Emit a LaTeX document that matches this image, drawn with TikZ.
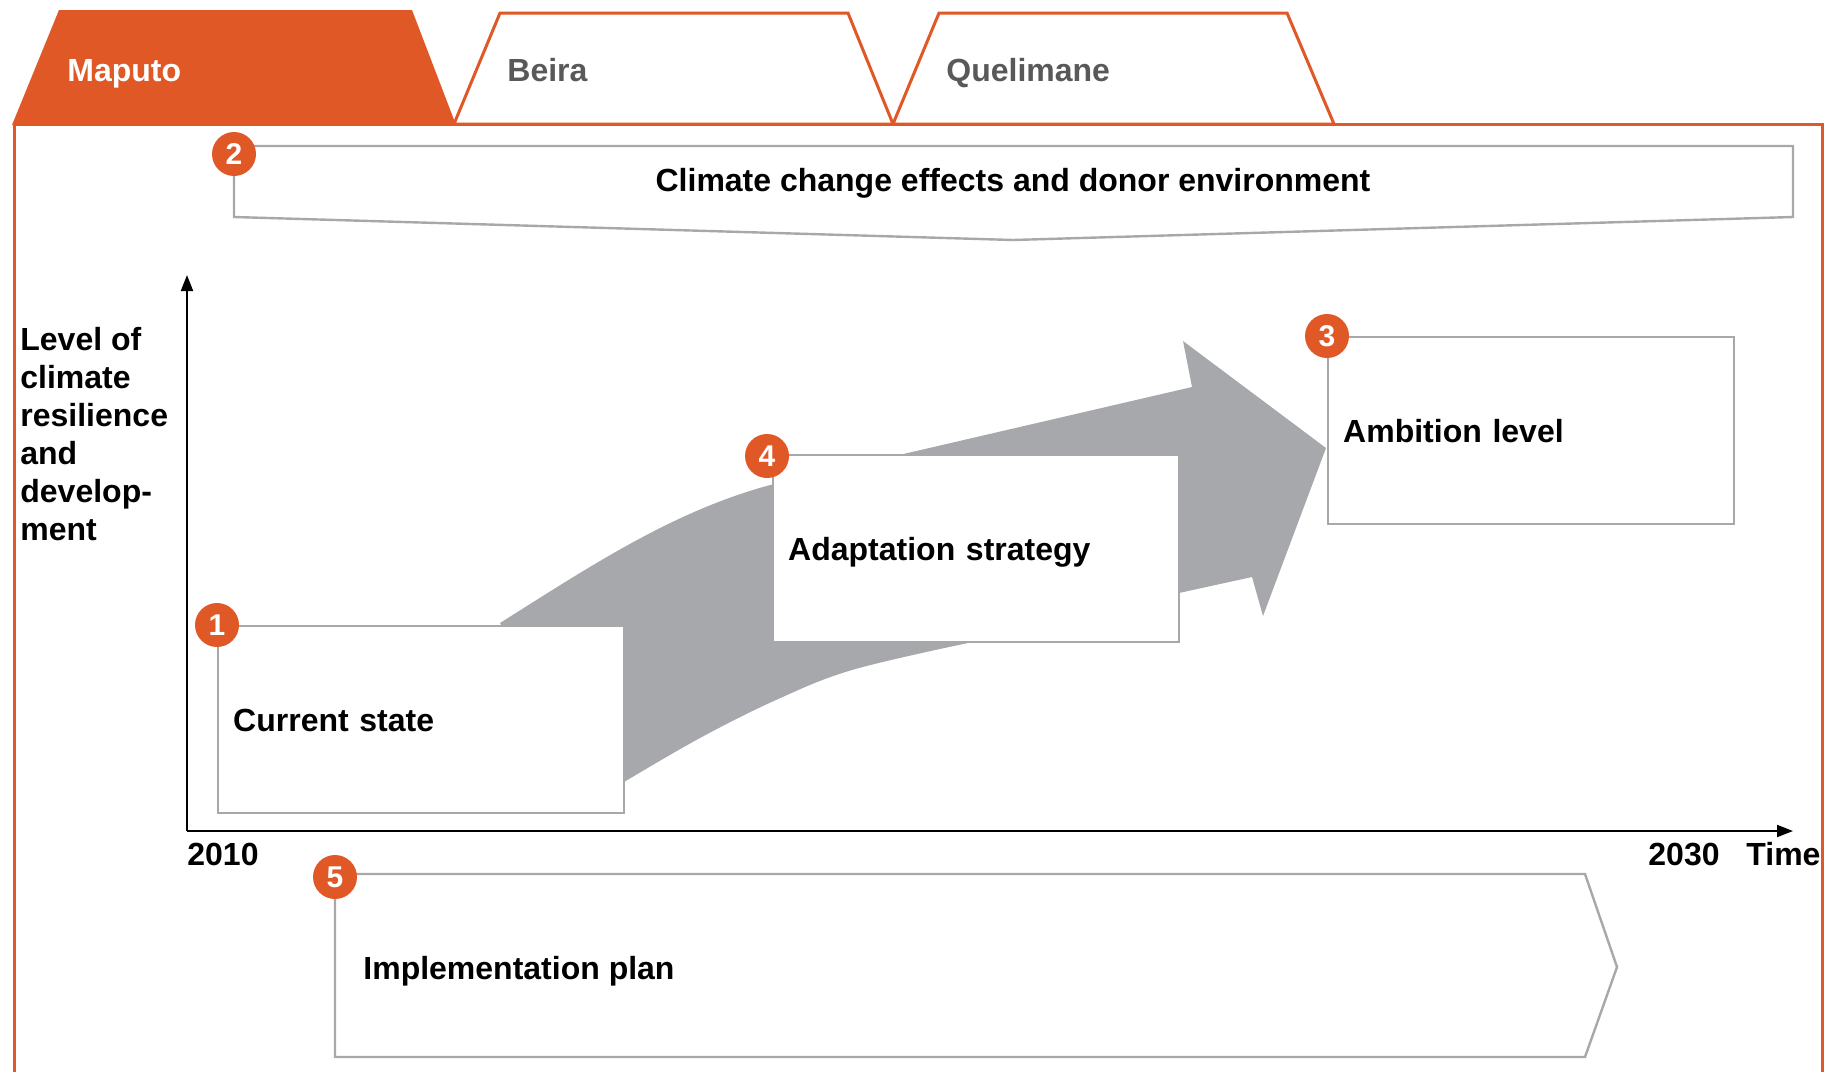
\documentclass[tikz,border=0pt]{standalone}
\usepackage{fontspec}
\setmainfont{Liberation Sans}
\usetikzlibrary{calc,arrows.meta}
\definecolor{cityOrange}{RGB}{225,88,39}
\definecolor{boxGrey}{RGB}{168,168,170}
\definecolor{arrowGrey}{RGB}{167,168,171}
\definecolor{tabGrey}{RGB}{89,89,89}

\begin{document}
\begin{tikzpicture}[x=0.5pt,y=-0.5pt,
  badge/.style={circle,fill=cityOrange,text=white,font=\bfseries\fontsize{15}{15}\selectfont,minimum size=22pt,inner sep=0pt},
  stagebox/.style={draw=boxGrey,line width=1.2pt,fill=white,anchor=north west,minimum width=203pt,minimum height=93.5pt,text width=188pt,inner xsep=7.5pt,align=left,text height=11.5pt,text depth=0pt,font=\bfseries\fontsize{16}{19}\selectfont},
  boldtext/.style={inner sep=0pt,font=\bfseries\fontsize{16}{19}\selectfont}]
\path[use as bounding box] (0,0) rectangle (1835,1072);

% Frame and city tabs
\draw[cityOrange,line width=1.5pt] (14,1072) -- (14,124) -- (1822,124) -- (1822,1072);
\fill[cityOrange] (12,125) -- (59,10) -- (412,10) -- (456,125) -- cycle;
\draw[cityOrange,line width=1.5pt,fill=white] (454,124) -- (500,13) -- (848,13) -- (893,124) -- cycle;
\draw[cityOrange,line width=1.5pt,fill=white] (893,124) -- (939,13) -- (1287,13) -- (1334,124) -- cycle;
\node[boldtext,anchor=base west,text=white] (maputo) at (67,81) {Maputo};
\node[boldtext,anchor=base west,text=tabGrey] (beira) at (507,81) {Beira};
\node[boldtext,anchor=base west,text=tabGrey] (quelimane) at (946,81) {Quelimane};

% Step 2 - context banner
\draw[boxGrey,line width=1.2pt,fill=white] (234,146) -- (1793,146) -- (1793,217) -- (1013,240) -- (234,217) -- cycle;
\node[boldtext,anchor=base] (context) at (1013,191) {Climate change effects and donor environment};
\node[badge] (n2) at (234,154) {2};

% Axes
\coordinate (origin) at (187,831);
\coordinate (ytop) at (187,275);
\coordinate (xend) at (1793,831);
\draw[line width=1pt,-{Triangle[length=8pt,width=6pt]}] (origin) -- (ytop);
\draw[line width=1pt,-{Triangle[length=8pt,width=6pt]}] (origin) -- (xend);
\node[boldtext,anchor=north west,align=left] (ylabel) at (20,327) {Level of\\climate\\resilience\\and\\develop-\\ment};
\node[boldtext,anchor=base west] (start) at (187,865) {2010};
\node[boldtext,anchor=base east] (finish) at (1720,865) {2030};
\node[boldtext,anchor=base west] (time) at (1746,865) {Time};

% Path arrow behind the steps
\fill[arrowGrey] (500,623) .. controls (600,560) and (690,500) .. (800,478) -- (1192,387)
  -- (1183,341) -- (1326,448) -- (1263,616) -- (1252,577) -- (1179,593)
  -- plot[smooth,tension=0.6] coordinates {(968,643) (852,670) (776,700) (700,738) (624,782)}
  -- (600,805) -- cycle;

% Steps 1, 4 and 3
\node[stagebox] (current) at (217,625) {Current state};
\node[stagebox] (adapt) at (772,454) {Adaptation strategy};
\node[stagebox] (ambition) at (1327,336) {Ambition level};
\node[badge] (n1) at (current.north west) {1};
\node[badge] (n4) at ([xshift=-2.5pt,yshift=-1pt]adapt.north west) {4};
\node[badge] (n3) at (ambition.north west) {3};

% Step 5 - implementation plan
\draw[boxGrey,line width=1.2pt,fill=white] (335,874) -- (1585,874) -- (1617,967) -- (1585,1057) -- (335,1057) -- cycle;
\node[boldtext,anchor=base west] (plan) at (363,979) {Implementation plan};
\node[badge] (n5) at (335,877) {5};
\end{tikzpicture}
\end{document}
